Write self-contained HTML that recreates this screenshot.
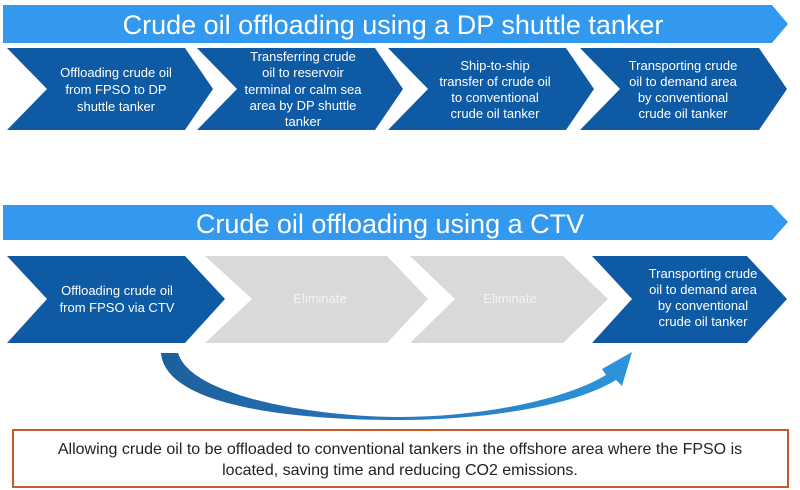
<!DOCTYPE html>
<html><head><meta charset="utf-8"><style>
html,body{margin:0;padding:0;background:#fff;}
svg{display:block;font-family:"Liberation Sans",sans-serif;}
</style></head><body>
<svg width="800" height="490" viewBox="0 0 800 490" xmlns="http://www.w3.org/2000/svg">
<defs>
<linearGradient id="g" x1="0" x2="1" y1="0" y2="0">
<stop offset="0" stop-color="#1c5f9c"/><stop offset="0.5" stop-color="#2a78bd"/><stop offset="1" stop-color="#2b95dc"/>
</linearGradient>
</defs>
<polygon points="3,5 772,5 788,24 772,43 3,43" fill="#3399ee"/>
<text x="393" y="34" font-size="27" fill="#fff" text-anchor="middle">Crude oil offloading using a DP shuttle tanker</text>
<g fill="#0f5aa5">
<polygon points="7,48 185,48 213,89 185,130 7,130 47,89"/>
<polygon points="197,48 375,48 403,89 375,130 197,130 237,89"/>
<polygon points="388,48 566,48 594,89 566,130 388,130 428,89"/>
<polygon points="580,48 759,48 787,89 759,130 580,130 620,89"/>
</g>
<g fill="#fff" font-size="13" text-anchor="middle">
<text x="116" y="77">Offloading crude oil</text>
<text x="116" y="94">from FPSO to DP</text>
<text x="116" y="111">shuttle tanker</text>
<text x="303" y="61">Transferring crude</text>
<text x="303" y="77">oil to reservoir</text>
<text x="303" y="94">terminal or calm sea</text>
<text x="303" y="110">area by DP shuttle</text>
<text x="303" y="126">tanker</text>
<text x="495" y="70">Ship-to-ship</text>
<text x="495" y="86">transfer of crude oil</text>
<text x="495" y="102">to conventional</text>
<text x="495" y="118">crude oil tanker</text>
<text x="683" y="70">Transporting crude</text>
<text x="683" y="86">oil to demand area</text>
<text x="683" y="102">by conventional</text>
<text x="683" y="118">crude oil tanker</text>
</g>
<polygon points="3,205 772,205 788,222 772,240 3,240" fill="#3399ee"/>
<text x="390" y="233" font-size="27" fill="#fff" text-anchor="middle">Crude oil offloading using a CTV</text>
<polygon points="7,256 185,256 225,299 185,343 7,343 47,299" fill="#0f5aa5"/>
<polygon points="205,256 387,256 428,299 387,343 205,343 252,299" fill="#d9d9d9"/>
<polygon points="410,256 563,256 608,299 563,343 410,343 455,299" fill="#d9d9d9"/>
<polygon points="592,256 747,256 787,299 747,343 592,343 632,299" fill="#0f5aa5"/>
<g font-size="13" text-anchor="middle">
<text x="117" y="295" fill="#fff">Offloading crude oil</text>
<text x="117" y="312" fill="#fff">from FPSO via CTV</text>
<text x="320" y="303" fill="#f4f4f4">Eliminate</text>
<text x="510" y="303" fill="#f4f4f4">Eliminate</text>
<text x="703" y="278" fill="#fff">Transporting crude</text>
<text x="703" y="294" fill="#fff">oil to demand area</text>
<text x="703" y="310" fill="#fff">by conventional</text>
<text x="703" y="326" fill="#fff">crude oil tanker</text>
</g>
<path d="M161,353 L178,353 C192,398 320,417 400,417 C480,417 565,400 606,375 L602,369 L632,352 L622,386 L616,380 C572,407 480,420 400,420 C300,420 166,408 161,353 Z" fill="url(#g)"/>
<rect x="13" y="430" width="775" height="57" fill="#fff" stroke="#c55a2b" stroke-width="2"/>
<g font-size="16" fill="#222" text-anchor="middle">
<text x="400" y="454">Allowing crude oil to be offloaded to conventional tankers in the offshore area where the FPSO is</text>
<text x="400" y="475">located, saving time and reducing CO2 emissions.</text>
</g>
</svg>
</body></html>
